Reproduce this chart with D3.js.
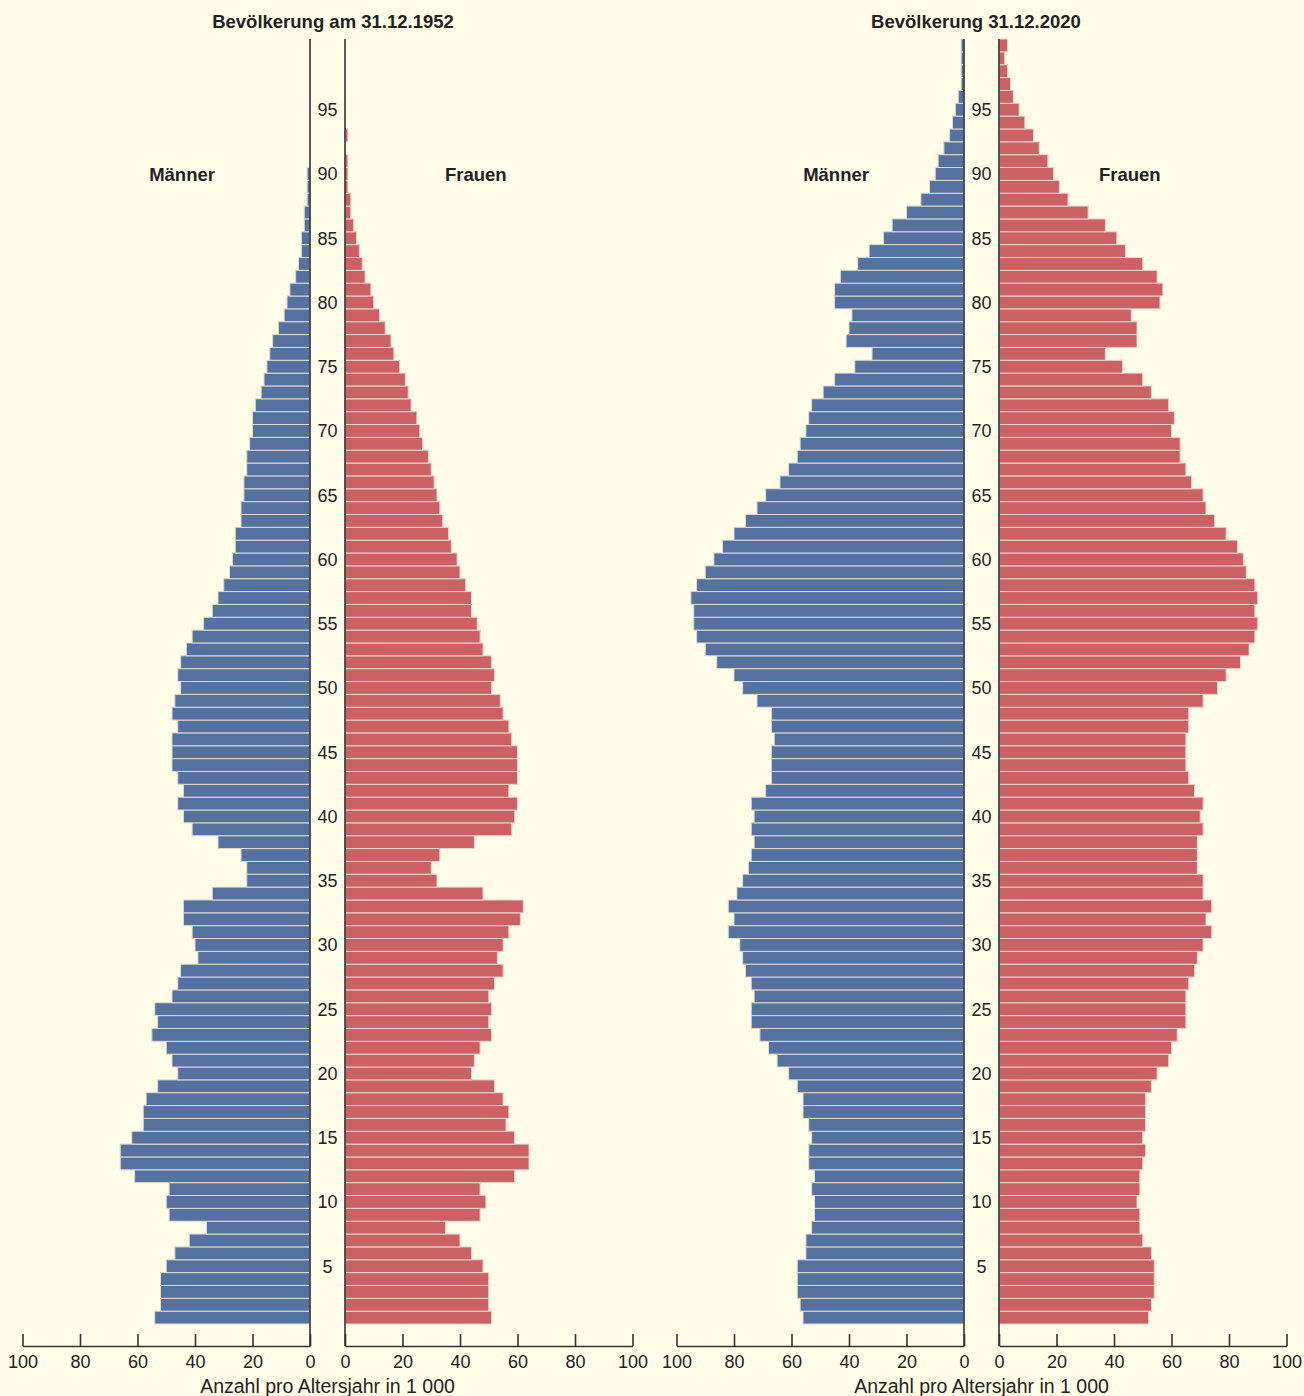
<!DOCTYPE html>
<html>
<head>
<meta charset="utf-8">
<title>Bevölkerungspyramiden 1952 und 2020</title>
<script src="https://d3js.org/d3.v7.min.js"></script>
<style>
  body { margin: 0; background: #fffde7; }
  svg { display: block; font-family: "Liberation Sans", Arial, sans-serif; }
</style>
</head>
<body>
<svg id="chart" width="1304" height="1396"></svg>
<script>
// Altersjahre, unten nach oben (1 ... 100)
var ages = d3.range(1, 101);
var ageLabels = [5, 10, 15, 20, 25, 30, 35, 40, 45, 50, 55, 60, 65, 70, 75, 80, 85, 90, 95];
var xTicks = [0, 20, 40, 60, 80, 100];

// Anzahl pro Altersjahr in 1 000, Reihenfolge wie ages
var men1952 = [54, 52, 52, 52, 50, 47, 42, 36, 49, 50,
               49, 61, 66, 66, 62, 58, 58, 57, 53, 46,
               48, 50, 55, 53, 54, 48, 46, 45, 39, 40,
               41, 44, 44, 34, 22, 22, 24, 32, 41, 44,
               46, 44, 46, 48, 48, 48, 46, 48, 47, 45,
               46, 45, 43, 41, 37, 34, 32, 30, 28, 27,
               26, 26, 24, 24, 23, 23, 22, 22, 21, 20,
               20, 19, 17, 16, 15, 14, 13, 11, 9, 8,
               7, 5, 4, 3, 3, 2, 2, 1, 1, 1,
               0, 0, 0, 0, 0, 0, 0, 0, 0, 0];
var women1952 = [51, 50, 50, 50, 48, 44, 40, 35, 47, 49,
                 47, 59, 64, 64, 59, 56, 57, 55, 52, 44,
                 45, 47, 51, 50, 51, 50, 52, 55, 53, 55,
                 57, 61, 62, 48, 32, 30, 33, 45, 58, 59,
                 60, 57, 60, 60, 60, 58, 57, 55, 54, 51,
                 52, 51, 48, 47, 46, 44, 44, 42, 40, 39,
                 37, 36, 34, 33, 32, 31, 30, 29, 27, 26,
                 25, 23, 22, 21, 19, 17, 16, 14, 12, 10,
                 9, 7, 6, 5, 4, 3, 2, 2, 1, 1,
                 1, 0, 1, 0, 0, 0, 0, 0, 0, 0];
var men2020 = [56, 57, 58, 58, 58, 55, 55, 53, 52, 52,
               53, 52, 54, 54, 53, 54, 56, 56, 58, 61,
               65, 68, 71, 74, 74, 73, 74, 76, 77, 78,
               82, 80, 82, 79, 77, 75, 74, 73, 74, 73,
               74, 69, 67, 67, 67, 66, 67, 67, 72, 77,
               80, 86, 90, 93, 94, 94, 95, 93, 90, 87,
               84, 80, 76, 72, 69, 64, 61, 58, 57, 55,
               54, 53, 49, 45, 38, 32, 41, 40, 39, 45,
               45, 43, 37, 33, 28, 25, 20, 15, 12, 10,
               9, 7, 5, 4, 3, 2, 1, 1, 1, 1];
var women2020 = [52, 53, 54, 54, 54, 53, 50, 49, 49, 48,
                 49, 49, 50, 51, 50, 51, 51, 51, 53, 55,
                 59, 60, 62, 65, 65, 65, 66, 68, 69, 71,
                 74, 72, 74, 71, 71, 69, 69, 69, 71, 70,
                 71, 68, 66, 65, 65, 65, 66, 66, 71, 76,
                 79, 84, 87, 89, 90, 89, 90, 89, 86, 85,
                 83, 79, 75, 72, 71, 67, 65, 63, 63, 60,
                 61, 59, 53, 50, 43, 37, 48, 48, 46, 56,
                 57, 55, 50, 44, 41, 37, 31, 24, 21, 19,
                 17, 14, 12, 9, 7, 5, 4, 3, 2, 3];

var blue = "#5571a0", red = "#cc6164", ink = "#222222";
var barTop = 39, barBottom = 1324, axisY = 1346;

var svg = d3.select("#chart");
svg.append("rect").attr("width", 1304).attr("height", 1396).attr("fill", "#fffde7");

var y = d3.scaleBand()
    .domain(ages.slice().reverse())
    .range([barTop, barBottom])
    .paddingInner(0);

function drawPyramid(title, titleX, men, women, zeroM, zeroF) {
    var g = svg.append("g");
    var xM = d3.scaleLinear().domain([0, 100]).range([zeroM, zeroM - 287.5]);
    var xF = d3.scaleLinear().domain([0, 100]).range([zeroF, zeroF + 287.5]);
    var mid = (zeroM + zeroF) / 2;

    var rowsM = ages.map(function(a, i) { return { age: a, value: men[i] }; });
    var rowsF = ages.map(function(a, i) { return { age: a, value: women[i] }; });

    g.selectAll(".m").data(rowsM.filter(function(d) { return d.value > 0; }))
      .enter().append("rect")
        .attr("x", function(d) { return xM(d.value); })
        .attr("y", function(d) { return y(d.age); })
        .attr("width", function(d) { return zeroM - xM(d.value); })
        .attr("height", y.bandwidth())
        .attr("fill", blue)
        .attr("stroke", "#dcdcd2")
        .attr("stroke-width", 1);

    g.selectAll(".f").data(rowsF.filter(function(d) { return d.value > 0; }))
      .enter().append("rect")
        .attr("x", zeroF)
        .attr("y", function(d) { return y(d.age); })
        .attr("width", function(d) { return xF(d.value) - zeroF; })
        .attr("height", y.bandwidth())
        .attr("fill", red)
        .attr("stroke", "#ead6d0")
        .attr("stroke-width", 1);

    // senkrechte Nulllinien
    [zeroM, zeroF].forEach(function(x0) {
        g.append("line")
            .attr("x1", x0).attr("x2", x0)
            .attr("y1", barTop).attr("y2", axisY)
            .attr("stroke", "#333").attr("stroke-width", 1.6);
    });

    // Altersbeschriftung
    g.selectAll(".age").data(ageLabels).enter().append("text")
        .attr("x", mid)
        .attr("y", function(d) { return y(d) + y.bandwidth() / 2; })
        .attr("dy", "0.36em")
        .attr("text-anchor", "middle")
        .attr("font-size", 18)
        .attr("fill", ink)
        .text(function(d) { return d; });

    // x-Achsen
    [xM, xF].forEach(function(sc) {
        var ax = g.append("g")
            .attr("transform", "translate(0," + axisY + ")")
            .call(d3.axisBottom(sc).tickValues(xTicks).tickSizeInner(-12).tickSizeOuter(0).tickPadding(9));
        ax.select(".domain").attr("stroke", "#333").attr("stroke-width", 1.6);
        ax.selectAll(".tick line").attr("stroke", "#333").attr("stroke-width", 1.6);
        ax.selectAll(".tick text").attr("font-size", 18).attr("fill", ink)
            .attr("font-family", "Liberation Sans, Arial, sans-serif");
    });

    g.append("text")
        .attr("x", mid).attr("y", 1393)
        .attr("text-anchor", "middle")
        .attr("font-size", 19.5)
        .attr("fill", ink)
        .text("Anzahl pro Altersjahr in 1 000");

    g.append("text")
        .attr("x", titleX).attr("y", 28)
        .attr("text-anchor", "middle")
        .attr("font-size", 18.5).attr("font-weight", "bold")
        .attr("fill", ink)
        .text(title);

    g.append("text")
        .attr("x", xM(44.5)).attr("y", y(90) + y.bandwidth() / 2)
        .attr("dy", "0.36em")
        .attr("text-anchor", "middle")
        .attr("font-size", 18.5).attr("font-weight", "bold")
        .attr("fill", ink)
        .text("Männer");

    g.append("text")
        .attr("x", xF(45.5)).attr("y", y(90) + y.bandwidth() / 2)
        .attr("dy", "0.36em")
        .attr("text-anchor", "middle")
        .attr("font-size", 18.5).attr("font-weight", "bold")
        .attr("fill", ink)
        .text("Frauen");
}

drawPyramid("Bevölkerung am 31.12.1952", 333, men1952, women1952, 310, 345);
drawPyramid("Bevölkerung 31.12.2020", 976, men2020, women2020, 964, 999);
</script>
</body>
</html>
